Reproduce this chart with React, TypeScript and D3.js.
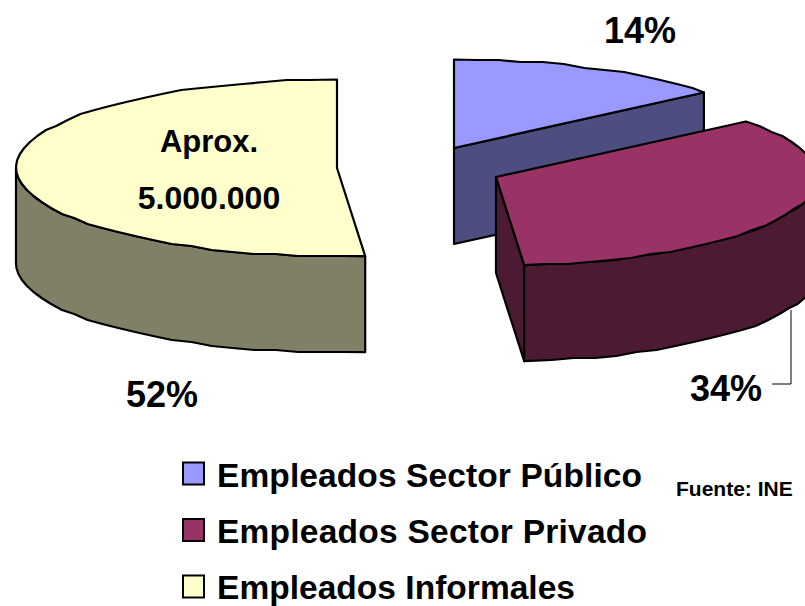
import * as d3 from "d3";

// shares; the printed labels are rounded differently in the source
const categories = ["Empleados Sector Público", "Empleados Sector Privado", "Empleados Informales"];
const shares = [14.2, 34.4, 51.4];
const shareLabels = ["14%", "34%", "52%"];
const topColors = ["#9999ff", "#993366", "#ffffcc"];
const sideColors = ["#4d4d80", "#4d1a33", "#808066"];
const centers: [number, number][] = [[454, 148], [496, 177], [337, 168]];
const labelPos: [number, number][] = [[640, 43], [726, 401], [162, 407]];
const legendWidths = [425, 430, 358];

const rx = 321;
const ry = 88.5;
const depth = 96;
const step = (4 * Math.PI) / 180;
const font = "'Liberation Sans', Arial, sans-serif";

const slices = d3.pie<number>().sort(null).value((d) => d)(shares);

// project a pie angle (clockwise from 12 o'clock) on to the tilted ellipse
const project = (c: [number, number], a: number, dy = 0): [number, number] => [
  c[0] + rx * Math.sin(a),
  c[1] - ry * Math.cos(a) + dy,
];

// sampled coarsely and snapped, the source chart has the same bumpy outline
const arcPoints = (c: [number, number], a0: number, a1: number, dy = 0) => {
  const pts: [number, number][] = [project(c, a0, dy)];
  for (let a = a0 + step; a < a1 - step / 2; a += step) {
    const p = project(c, a, dy);
    pts.push([p[0], Math.round(p[1] / 2) * 2]);
  }
  pts.push(project(c, a1, dy));
  return pts;
};

const line = d3.line();
const closed = (pts: [number, number][]) => line(pts) + "Z";
const down = (p: [number, number]): [number, number] => [p[0], p[1] + depth];

const Slice = ({ i }: { i: number }) => {
  const c = centers[i];
  const { startAngle: a0, endAngle: a1 } = slices[i];
  const stroke = { stroke: "#000", strokeWidth: 2.2, strokeLinejoin: "round" as const };
  const lo = Math.max(a0, Math.PI / 2);
  const hi = Math.min(a1, (3 * Math.PI) / 2);
  const outer = arcPoints(c, lo, hi);
  return (
    <g>
      {Math.sin(a1) > 1e-6 && (
        <path
          d={closed([c, project(c, a1), down(project(c, a1)), down(c)])}
          fill={sideColors[i]}
          {...stroke}
        />
      )}
      {hi > lo && (
        <path
          d={closed([...outer, ...arcPoints(c, lo, hi, depth).reverse()])}
          fill={sideColors[i]}
          {...stroke}
        />
      )}
      <path d={closed([c, ...arcPoints(c, a0, a1)])} fill={topColors[i]} {...stroke} />
    </g>
  );
};

export default function App() {
  return (
    <svg
      width={805}
      height={606}
      style={{ position: "absolute", left: 0, top: 0, background: "#fff" }}
      fontFamily={font}
      fontWeight="bold"
    >
      <Slice i={0} />
      <Slice i={2} />
      <Slice i={1} />

      <path d="M791 310V384H772" fill="none" stroke="#000" strokeWidth={1} />

      {shareLabels.map((t, i) => (
        <text key={t} x={labelPos[i][0]} y={labelPos[i][1]} textAnchor="middle" fontSize={36}>
          {t}
        </text>
      ))}

      <text x={209} y={152} textAnchor="middle" fontSize={31}>Aprox.</text>
      <text x={209} y={209} textAnchor="middle" fontSize={32}>5.000.000</text>

      {categories.map((name, i) => {
        const y = 462.5 + i * 56.5;
        return (
          <g key={name}>
            <rect x={183} y={y} width={21} height={22} fill={topColors[i]} stroke="#000" strokeWidth={2} />
            <text x={217} y={487 + i * 56} fontSize={33.5} textLength={legendWidths[i]}>{name}</text>
          </g>
        );
      })}

      <text x={676} y={496} fontSize={21}>Fuente: INE</text>
    </svg>
  );
}
